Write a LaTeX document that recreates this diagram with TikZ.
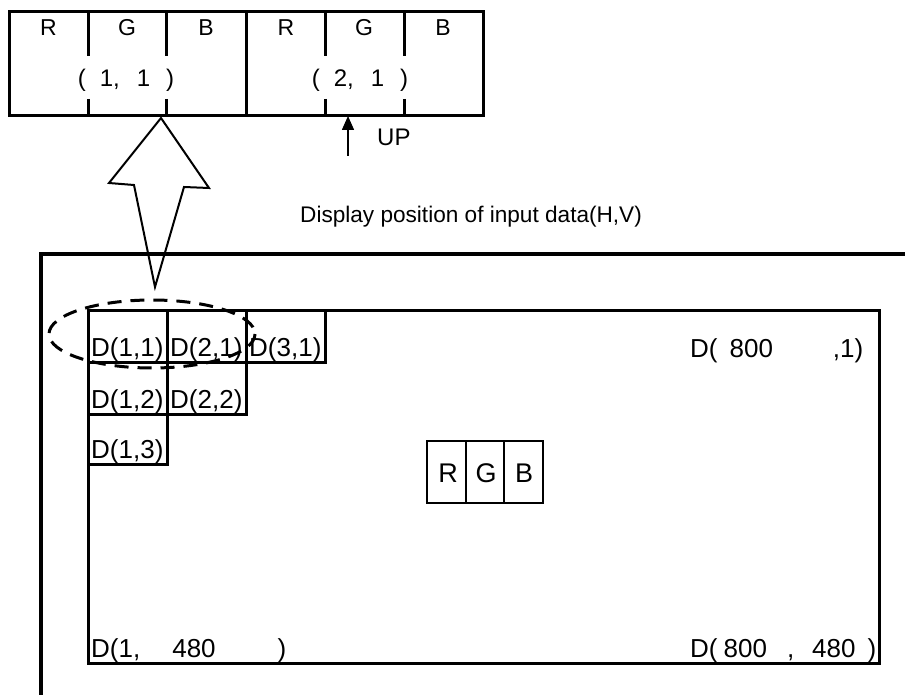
\documentclass[tikz,border=0pt]{standalone}
\usepackage{fontspec}
\setmainfont{Liberation Sans}
\usetikzlibrary{arrows.meta}
\begin{document}
\begin{tikzpicture}[x=1pt,y=-1pt,
  thick3/.style={line width=3pt},
  thin15/.style={line width=1.5pt},
  txt/.style={inner sep=0pt,font=\fontsize{#1}{#1}\selectfont},
  dtxt/.style={inner sep=0pt,anchor=base west,font=\fontsize{26}{26}\selectfont}]
\useasboundingbox (0,0) rectangle (905,695);
% ---------- top RGB box ----------
\draw[thick3] (9,12) rectangle (483,116);
\draw[thick3] (246,12) -- (246,116);
\foreach \xx in {88,166,325,404}{
  \draw[thick3] (\xx,12) -- (\xx,56);
  \draw[thick3] (\xx,99) -- (\xx,116);
}
\node[txt=23] (r1) at (48.5,28) {R};
\node[txt=23] (g1) at (127,28) {G};
\node[txt=23] (b1) at (206,28) {B};
\node[txt=23] (r2) at (286,28) {R};
\node[txt=23] (g2) at (364,28) {G};
\node[txt=23] (b2) at (443,28) {B};
\node[txt=24] (p11) at (126,80) {(\hspace{14pt}1,\hspace{17pt}1\hspace{16pt})};
\node[txt=24] (p21) at (360,80) {(\hspace{14pt}2,\hspace{17pt}1\hspace{16pt})};
% UP arrow
\coordinate (upbase) at (348,156);
\coordinate (uptip) at (348,116);
\draw[line width=1.5pt,-{Triangle[length=14pt,width=12pt]}] (upbase) -- (uptip);
\node[txt=24,anchor=west] (up) at (377,137) {UP};
% hollow arrow
\draw[line width=2pt,line join=miter] (161,118) -- (209,188) -- (184,187) -- (155,287) -- (134,185) -- (109,183) -- cycle;
% caption
\node[txt=22.6,anchor=west] (cap) at (300,217) {Display position of input data(H,V)};
% ---------- outer frame ----------
\draw[line width=4pt] (905,254) -- (41,254) -- (41,695);
% ---------- inner display ----------
\draw[thick3] (88,310) rectangle (879,663);
\draw[thick3] (88,310) rectangle (167,362);
\draw[thick3] (167,310) rectangle (246,362);
\draw[thick3] (246,310) rectangle (325,362);
\draw[thick3] (88,362) rectangle (167,414);
\draw[thick3] (167,362) rectangle (246,414);
\draw[thick3] (88,414) rectangle (167,464);
\node[dtxt] (d11) at (91,356) {D(1,1)};
\node[dtxt] (d21) at (170,356) {D(2,1)};
\node[dtxt] (d31) at (249,356) {D(3,1)};
\node[dtxt] (d12) at (91,408) {D(1,2)};
\node[dtxt] (d22) at (170,408) {D(2,2)};
\node[dtxt] (d13) at (91,458) {D(1,3)};
\node[dtxt] (d8001) at (690,357) {D(\hspace{12pt}800\hspace{60pt},1)};
\node[dtxt] (d1480) at (91,657) {D(1,\hspace{32pt}480\hspace{62pt})};
\node[dtxt] (d800480) at (690,657) {D(\hspace{6pt}800\hspace{20pt},\hspace{18pt}480\hspace{12pt})};
% dashed ellipse
\draw[line width=3pt,dash pattern=on 14pt off 9pt] (152,334) ellipse [x radius=103, y radius=34];
% middle RGB
\draw[thin15] (427,441) rectangle (543,503);
\draw[thin15] (466,441) -- (466,503);
\draw[thin15] (504,441) -- (504,503);
\node[txt=27] (rm) at (448,473) {R};
\node[txt=27] (gm) at (486,473) {G};
\node[txt=27] (bm) at (524,473) {B};
\end{tikzpicture}
\end{document}
